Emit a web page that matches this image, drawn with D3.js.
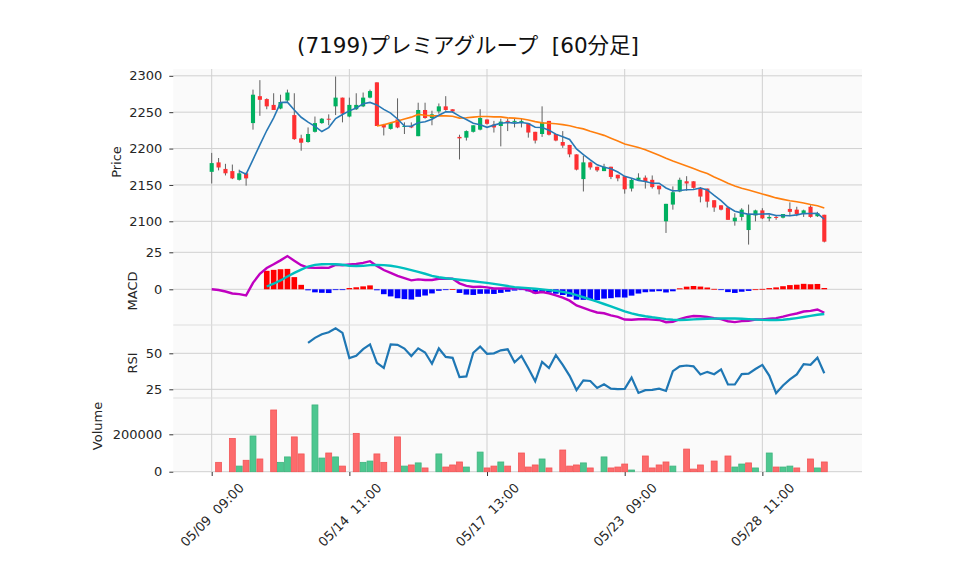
<!DOCTYPE html>
<html><head><meta charset="utf-8">
<script src="https://cdn.jsdelivr.net/npm/d3@7/dist/d3.min.js"></script>
<style>body{margin:0;background:#fff}svg text{font-family:"DejaVu Sans","Noto Sans CJK JP",sans-serif;fill:#262626;white-space:pre}</style>
</head><body><svg id="c" width="958" height="575"></svg>
<script>
// ---------- data ----------
const title = "(7199)プレミアグループ  [60分足]";
const opens  = [2168,2181,2172,2169,2157,2166,2235,2272,2268,2260,2255,2266,2246,2214,2209,2223,2235,2241,2258,2270,
                2244,2254,2258,2270,2291,2233,2227,2240,2230,2231,2217,2253,2242,2251,2258,2254,2216,2215,2223,2226,
                2240,2233,2231,2238,2237,2238,2235,2223,2220,2238,2220,2209,2205,2192,2158,2181,2175,2169,2175,2164,
                2162,2145,2157,2160,2157,2149,2100,2123,2141,2155,2155,2146,2145,2129,2122,2119,2100,2106,2088,2108,
                2115,2104,2106,2105,2117,2116,2110,2120,2107,2109];
const highs  = [2194,2187,2179,2178,2171,2167,2281,2294,2269,2276,2274,2281,2276,2219,2229,2244,2242,2247,2299,2270,
                2270,2276,2277,2281,2291,2234,2236,2269,2236,2236,2263,2263,2252,2262,2272,2254,2219,2225,2232,2254,
                2240,2238,2241,2241,2241,2242,2235,2223,2258,2238,2220,2224,2205,2192,2190,2182,2175,2179,2175,2164,
                2162,2159,2166,2163,2163,2149,2124,2148,2160,2162,2155,2147,2145,2129,2122,2119,2111,2118,2123,2116,
                2118,2109,2108,2110,2126,2120,2116,2122,2113,2109];
const lows   = [2152,2170,2163,2158,2156,2149,2226,2245,2254,2253,2254,2264,2212,2197,2208,2222,2234,2232,2246,2236,
                2243,2253,2257,2269,2231,2218,2226,2228,2220,2228,2217,2241,2232,2248,2252,2249,2185,2211,2222,2225,
                2233,2222,2203,2224,2229,2229,2215,2207,2216,2218,2210,2201,2188,2170,2141,2171,2168,2169,2158,2155,
                2138,2141,2156,2145,2145,2137,2084,2116,2140,2142,2145,2126,2119,2113,2115,2102,2094,2101,2068,2100,
                2103,2100,2102,2104,2107,2107,2106,2105,2106,2071];
const closes = [2180,2174,2166,2159,2166,2159,2274,2267,2258,2253,2264,2277,2213,2208,2220,2235,2241,2240,2270,2248,
                2260,2260,2270,2279,2231,2229,2235,2229,2231,2229,2253,2242,2247,2258,2253,2251,2214,2224,2232,2242,
                2234,2229,2237,2237,2238,2238,2222,2211,2236,2219,2211,2204,2192,2171,2181,2174,2170,2175,2161,2159,
                2144,2157,2160,2154,2147,2144,2124,2140,2157,2152,2146,2134,2127,2119,2116,2102,2105,2116,2110,2115,
                2104,2106,2105,2110,2113,2110,2115,2106,2111,2072];
const volumes= [0,50000,0,178000,30000,61000,191000,68000,0,330000,50000,79000,186000,95000,0,357000,73000,100000,79000,30000,
                0,205000,50000,57000,95000,50000,0,186000,30000,36000,47000,20000,0,95000,25000,36000,52000,25000,0,105000,
                20000,30000,52000,30000,0,100000,25000,36000,68000,20000,0,116000,30000,36000,47000,20000,0,79000,20000,25000,
                41000,9000,0,84000,20000,36000,52000,30000,0,121000,14000,36000,0,57000,0,84000,25000,41000,47000,20000,
                0,100000,25000,25000,30000,20000,0,68000,20000,52000];
const xTickIdx    = [0,20,40,60,80];
const xTickLabels = ["05/09  09:00","05/14  11:00","05/17  13:00","05/23  09:00","05/28  11:00"];
const priceTicks  = [2100,2150,2200,2250,2300];
const macdTicks   = [0,25];
const rsiTicks    = [25,50];
const volTicks    = [0,200000];

// ---------- indicators derived from closes ----------
const n = closes.length;
const sma = (arr, p) => arr.map((v,i) => i < p-1 ? null : d3.mean(arr.slice(i-p+1, i+1)));
const ema = (arr, p) => { const a = 2/(p+1); let e; return arr.map((v,i) => (e = i === 0 ? v : a*v + (1-a)*e)); };
const ma5 = sma(closes,5), ma25 = sma(closes,25);
const e12 = ema(closes,12), e26 = ema(closes,26);
const macd = e12.map((v,i) => v - e26[i]);
const signal = sma(macd,9);
const hist = macd.map((v,i) => signal[i] == null ? null : v - signal[i]);
const rsi = closes.map((c,i) => {
  if (i < 14) return null;
  let g = 0, l = 0;
  for (let k = i-13; k <= i; k++) { const d = closes[k]-closes[k-1]; if (d > 0) g += d; else l -= d; }
  return 100 * g / (g + l);
});
const volUp = closes.map((c,i) => i > 0 && c > closes[i-1]);

// ---------- layout ----------
const svg = d3.select("#c");
const L = 173.3, R = 862;
const P = {price:[69,246], macd:[246,325], rsi:[325,398], vol:[398,472]};
const x  = d3.scaleLinear().domain([0,89]).range([211.7,824.3]);
const bw = x(1)-x(0);
const yP = d3.scaleLinear().domain([2100,2300]).range([221.3,75.8]);
const yM = d3.scaleLinear().domain([0,25]).range([289.3,252.3]);
const yR = d3.scaleLinear().domain([25,50]).range([389.3,353.3]);
const yV = d3.scaleLinear().domain([0,200000]).range([471.7,434.3]);

const C = {up:"#00b060", down:"#fe3032", wick:"#606060", vup:"#4dc790", vdown:"#fd6b6c",
           vupE:"#3fb47e", vdownE:"#f25556", grid:"#d0d0d0", ma5:"#2878b5", ma25:"#ff7f0e",
           macd:"#c000c0", sig:"#00bfbf", hup:"#ff0000", hdn:"#0000ff", rsi:"#1f77b4"};

svg.append("rect").attr("x",L).attr("y",P.price[0]).attr("width",R-L).attr("height",P.vol[1]-P.price[0]).attr("fill","#fafafa");

// gridlines
const grid = svg.append("g").attr("stroke",C.grid).attr("stroke-width",1).attr("fill","none");
grid.selectAll(".v").data(xTickIdx).join("line").attr("x1",d=>x(d)).attr("x2",d=>x(d)).attr("y1",P.price[0]).attr("y2",P.vol[1]);
[[priceTicks,yP],[macdTicks,yM],[rsiTicks,yR],[volTicks,yV]].forEach(([t,s]) => {
  grid.append("g").selectAll("line").data(t).join("line").attr("x1",L).attr("x2",R).attr("y1",d=>s(d)).attr("y2",d=>s(d));
});
// panel separators
svg.append("g").attr("stroke","#dedede").selectAll("line").data([P.rsi[0],P.vol[0]]).join("line")
  .attr("x1",L).attr("x2",R).attr("y1",d=>d).attr("y2",d=>d);

// ---------- axes ----------
function yAxis(scale, ticks, fmt) {
  const g = svg.append("g").attr("transform",`translate(${L},0)`)
    .call(d3.axisLeft(scale).tickValues(ticks).tickSize(4).tickPadding(7).tickFormat(fmt || d3.format("d")));
  g.select(".domain").remove();
  g.selectAll(".tick line").attr("stroke","#333");
  g.selectAll(".tick text").attr("font-size",13).style("fill","#262626");
}
yAxis(yP, priceTicks); yAxis(yM, macdTicks); yAxis(yR, rsiTicks); yAxis(yV, volTicks);

const xg = svg.append("g").attr("transform",`translate(0,${P.vol[1]})`)
  .call(d3.axisBottom(x).tickValues(xTickIdx).tickSize(4).tickFormat((d,i)=>xTickLabels[i]));
xg.select(".domain").remove();
xg.selectAll(".tick line").attr("stroke","#333");
xg.selectAll(".tick text").attr("font-size",13).attr("text-anchor","middle").attr("dy",null).attr("y",null)
  .attr("dominant-baseline","central").attr("transform","translate(0,43) rotate(-45)").style("fill","#262626");

// axis titles
const yl = [["Price",116,162],["MACD",132.5,291],["RSI",132,363],["Volume",97.5,426]];
svg.append("g").selectAll("text").data(yl).join("text").attr("font-size",13).attr("text-anchor","middle")
  .attr("dominant-baseline","central").attr("transform",d=>`translate(${d[1]},${d[2]}) rotate(-90)`).text(d=>d[0]);

svg.append("text").attr("x",468).attr("y",53).attr("text-anchor","middle").attr("font-size",21.5).style("fill","#111").text(title);

// ---------- price panel ----------
const idx = d3.range(n);
const cg = svg.append("g");
cg.selectAll(".w").data(idx).join("line").attr("x1",i=>x(i)).attr("x2",i=>x(i))
  .attr("y1",i=>yP(highs[i])).attr("y2",i=>yP(lows[i])).attr("stroke",C.wick).attr("stroke-width",1);
const cw = bw*0.6;
cg.selectAll(".b").data(idx).join("rect").attr("x",i=>x(i)-cw/2).attr("width",cw)
  .attr("y",i=>yP(Math.max(opens[i],closes[i])))
  .attr("height",i=>Math.max(1,Math.abs(yP(opens[i])-yP(closes[i]))))
  .attr("fill",i=>closes[i]>=opens[i]?C.up:C.down);

const line = (ys) => d3.line().defined(i=>ys[0][i]!=null).x(i=>x(i)).y(i=>ys[1](ys[0][i]));
svg.append("path").datum(idx).attr("d",line([ma25,yP])).attr("fill","none").attr("stroke",C.ma25).attr("stroke-width",1.6);
svg.append("path").datum(idx).attr("d",line([ma5,yP])).attr("fill","none").attr("stroke",C.ma5).attr("stroke-width",1.6);

// ---------- MACD panel ----------
const hw = bw*0.82;
svg.append("g").selectAll("rect").data(idx.filter(i=>hist[i]!=null)).join("rect")
  .attr("x",i=>x(i)-hw/2).attr("width",hw)
  .attr("y",i=>Math.min(yM(0),yM(hist[i]))).attr("height",i=>Math.max(0.8,Math.abs(yM(hist[i])-yM(0))))
  .attr("fill",i=>hist[i]>=0?C.hup:C.hdn);
svg.append("path").datum(idx).attr("d",line([macd,yM])).attr("fill","none").attr("stroke",C.macd).attr("stroke-width",2.4);
svg.append("path").datum(idx).attr("d",line([signal,yM])).attr("fill","none").attr("stroke",C.sig).attr("stroke-width",2.4);

// ---------- RSI panel ----------
svg.append("path").datum(idx).attr("d",line([rsi,yR])).attr("fill","none").attr("stroke",C.rsi).attr("stroke-width",2.2);

// ---------- Volume panel ----------
const vw = bw*0.86;
svg.append("g").selectAll("rect").data(idx.filter(i=>volumes[i]>0)).join("rect")
  .attr("x",i=>x(i)-vw/2).attr("width",vw)
  .attr("y",i=>yV(volumes[i])).attr("height",i=>yV(0)-yV(volumes[i]))
  .attr("fill",i=>volUp[i]?C.vup:C.vdown).attr("stroke",i=>volUp[i]?C.vupE:C.vdownE).attr("stroke-width",0.8);
</script></body></html>
